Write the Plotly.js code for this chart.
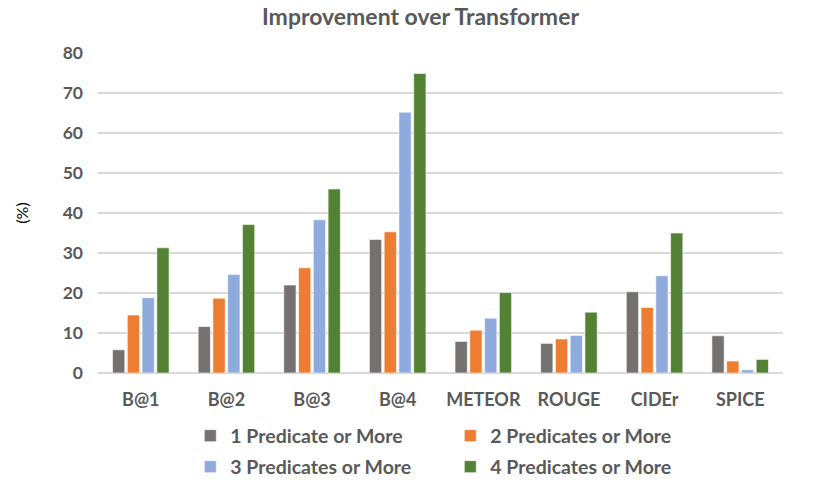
<!DOCTYPE html>
<html><head><meta charset="utf-8">
<script src="https://cdn.plot.ly/plotly-3.0.1.min.js"></script>
<style>html,body{margin:0;padding:0;background:#fff}</style>
</head><body>
<div id="chart" style="width:831px;height:485px"></div>
<script>
const categories = ["B@1","B@2","B@3","B@4","METEOR","ROUGE","CIDEr","SPICE"];
const seriesNames = ["1 Predicate or More","2 Predicates or More","3 Predicates or More","4 Predicates or More"];
const pred1 = [5.8, 11.6, 22.0, 33.4, 7.9, 7.4, 20.3, 9.3];
const pred2 = [14.5, 18.7, 26.3, 35.3, 10.7, 8.5, 16.4, 3.0];
const pred3 = [18.8, 24.6, 38.3, 65.2, 13.7, 9.4, 24.3, 0.8];
const pred4 = [31.3, 37.1, 46.0, 74.9, 20.1, 15.2, 35.0, 3.4];
const yTicks = [0,10,20,30,40,50,60,70,80];

const colors = ["#767171","#ED7D31","#8FAADC","#548235"];
const values = [pred1, pred2, pred3, pred4];
const legendIds = ["legend","legend","legend2","legend2"];
const font = "Lato, 'Open Sans', sans-serif";
const data = values.map((v,i)=>({
  type:"bar", x:categories, y:v, name:seriesNames[i], legend:legendIds[i],
  marker:{color:colors[i], line:{color:"rgba(255,255,255,0.6)", width:1}}
}));
const legendFont = {family:font, size:19.5, color:"#595959", weight:"bold"};
const legendBase = {orientation:"h", xref:"container", yref:"container", x:0.229, xanchor:"left",
  yanchor:"middle", entrywidth:215, entrywidthmode:"pixels", font:legendFont, itemwidth:30,
  bgcolor:"rgba(0,0,0,0)"};
const layout = {
  width:831, height:485,
  margin:{l:98, r:48, t:53, b:112},
  paper_bgcolor:"#fff", plot_bgcolor:"#fff",
  barmode:"group", bargap:0.31, bargroupgap:0.17,
  title:{text:"Improvement over Transformer", x:0.506, xanchor:"center", y:0.965, yanchor:"middle",
    font:{family:font, size:23, color:"#595959", weight:"bold"}},
  font:{family:font, color:"#595959"},
  xaxis:{tickfont:{family:font, size:18, color:"#595959", weight:"bold"}, showline:false, ticks:"",
    fixedrange:true, automargin:false, ticklabelstandoff:14},
  yaxis:{range:[0,80], tickvals:yTicks, ticktext:yTicks.map(String), automargin:false,
    tickfont:{family:font, size:17.5, color:"#595959", weight:"bold"},
    gridcolor:"#d9d9d9", gridwidth:1.5, zeroline:true, zerolinecolor:"#d9d9d9", zerolinewidth:1.5,
    ticklen:0, ticks:"", ticklabelstandoff:14,
    title:{text:"(%)", standoff:30, font:{family:font, size:16, color:"#000"}}},
  showlegend:true,
  legend:Object.assign({}, legendBase, {y:1-436/485}),
  legend2:Object.assign({}, legendBase, {y:1-467/485})
};
Plotly.newPlot("chart", data, layout, {displayModeBar:false, staticPlot:true});
</script>
</body></html>
